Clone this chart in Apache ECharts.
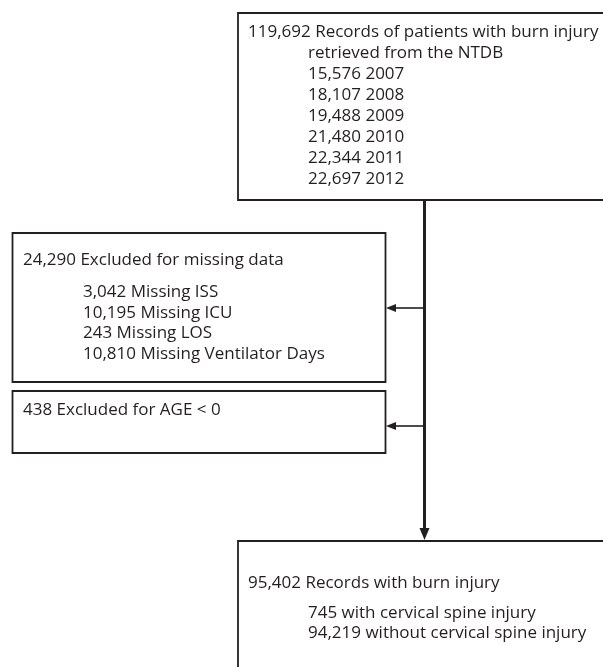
<!DOCTYPE html>
<html>
<head>
<meta charset="utf-8">
<style>
  html, body { margin: 0; padding: 0; background: #fff; }
  #chart { width: 603px; height: 667px; }
</style>
<script src="https://cdn.jsdelivr.net/npm/echarts@6/dist/echarts.min.js"></script>
</head>
<body>
<div id="chart"></div>
<script>
// flow counts
const totalRecords = 119692;
const years = [2007, 2008, 2009, 2010, 2011, 2012];
const yearCounts = [15576, 18107, 19488, 21480, 22344, 22697];

const missingTotal = 24290;
const missingFields = ["ISS", "ICU", "LOS", "Ventilator Days"];
const missingCounts = [3042, 10195, 243, 10810];

const ageExcluded = 438;

const finalTotal = 95402;
const spineGroups = ["with cervical spine injury", "without cervical spine injury"];
const spineCounts = [745, 94219];

const fmt = n => n.toLocaleString("en-US");

// text for each box: first line flush, rest indented
const boxTexts = [
  [fmt(totalRecords) + " Records of patients with burn injury", "retrieved from the NTDB"]
    .concat(years.map((y, i) => fmt(yearCounts[i]) + " " + y)),
  [fmt(missingTotal) + " Excluded for missing data"]
    .concat(missingFields.map((f, i) => fmt(missingCounts[i]) + " Missing " + f)),
  [fmt(ageExcluded) + " Excluded for AGE < 0"],
  [fmt(finalTotal) + " Records with burn injury"]
    .concat(spineGroups.map((g, i) => fmt(spineCounts[i]) + " " + g))
];

// layout in page units (hidden axes span the whole canvas)
const boxes = [
  { x0: 238, y0: 13, x1: 640, y1: 200, tx: 248, ix: 308, first: 32, sub: 53, gap: 21.1 },
  { x0: 12.5, y0: 233, x1: 385.5, y1: 382, tx: 23, ix: 83, first: 260, sub: 292, gap: 20.8 },
  { x0: 12.5, y0: 391, x1: 385.5, y1: 453, tx: 23, ix: 83, first: 410, sub: 0, gap: 0 },
  { x0: 238, y0: 541, x1: 640, y1: 700, tx: 248, ix: 308, first: 583, sub: 613, gap: 20.5 }
];

// connectors: main trunk down, two side arrows to the left
const links = [
  { x0: 424.5, y0: 200, x1: 424.5, y1: 540, w: 3, head: 12, half: 5 },
  { x0: 424, y0: 308, x1: 386, y1: 308, w: 1.6, head: 10, half: 4 },
  { x0: 424, y0: 426, x1: 386, y1: 426, w: 1.6, head: 10, half: 4 }
];

const ink = "#231f20";
const font = "17px 'Open Sans'";

function renderBox(params, api) {
  const b = boxes[params.dataIndex];
  const p0 = api.coord([b.x0, b.y0]);
  const p1 = api.coord([b.x1, b.y1]);
  const children = [{
    type: "rect",
    shape: { x: p0[0], y: p0[1], width: p1[0] - p0[0], height: p1[1] - p0[1] },
    style: { fill: "#fff", stroke: ink, lineWidth: 1.8 }
  }];
  boxTexts[params.dataIndex].forEach((t, j) => {
    const x = j === 0 ? b.tx : b.ix;
    const y = j === 0 ? b.first : b.sub + (j - 1) * b.gap;
    const p = api.coord([x, y]);
    children.push({
      type: "text",
      style: { text: t, x: p[0], y: p[1], verticalAlign: "middle", font: font, fill: ink }
    });
  });
  return { type: "group", children: children };
}

function renderLink(params, api) {
  const l = links[params.dataIndex];
  const a = api.coord([l.x0, l.y0]);
  const b = api.coord([l.x1, l.y1]);
  const dx = b[0] - a[0], dy = b[1] - a[1];
  const len = Math.sqrt(dx * dx + dy * dy);
  const ux = dx / len, uy = dy / len;
  const bx = b[0] - ux * l.head, by = b[1] - uy * l.head;
  return {
    type: "group",
    children: [
      {
        type: "line",
        shape: { x1: a[0], y1: a[1], x2: bx + ux * 2, y2: by + uy * 2 },
        style: { stroke: ink, lineWidth: l.w }
      },
      {
        type: "polygon",
        shape: { points: [b, [bx - uy * l.half, by + ux * l.half], [bx + uy * l.half, by - ux * l.half]] },
        style: { fill: ink }
      }
    ]
  };
}

const chart = echarts.init(document.getElementById("chart"));
chart.setOption({
  animation: false,
  grid: { left: 0, right: 0, top: 0, bottom: 0 },
  xAxis: { type: "value", min: 0, max: 603, show: false },
  yAxis: { type: "value", min: 0, max: 667, inverse: true, show: false },
  series: [
    {
      type: "custom",
      clip: false,
      renderItem: renderLink,
      data: links.map(l => [l.x0, l.y0])
    },
    {
      type: "custom",
      clip: false,
      renderItem: renderBox,
      data: boxes.map(b => [b.x0, b.y0])
    }
  ]
});
</script>
</body>
</html>
